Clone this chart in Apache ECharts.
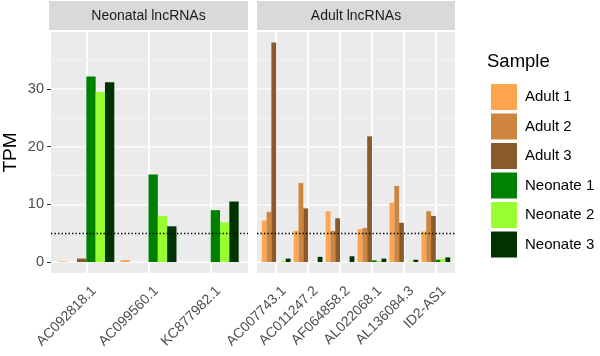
<!DOCTYPE html>
<html>
<head>
<meta charset="utf-8">
<script src="https://cdn.jsdelivr.net/npm/echarts@6/dist/echarts.min.js"></script>
<style>
  html, body { margin: 0; padding: 0; background: #fff; }
  #chart { width: 600px; height: 356px; }
</style>
</head>
<body>
<div id="chart"></div>
<script>
// data (TPM)
const neonatalGenes = ['AC092818.1', 'AC099560.1', 'KC877982.1']
const adultGenes = ['AC007743.1', 'AC011247.2', 'AF064858.2', 'AL022068.1', 'AL136084.3', 'ID2-AS1']
const samples = ['Adult 1', 'Adult 2', 'Adult 3', 'Neonate 1', 'Neonate 2', 'Neonate 3']
const sampleColors = ['#FFA54F', '#CD853F', '#8B5A2B', '#008000', '#99FF33', '#003300']

// one row per sample, values in gene order
const neonatalValues = [
  [0.1, 0.35, 0],
  [0, 0, 0],
  [0.6, 0, 0],
  [32.2, 15.2, 9.0],
  [29.5, 8.0, 6.9],
  [31.2, 6.2, 10.5]
]
const adultValues = [
  [7.2, 5.4, 8.8, 5.7, 10.3, 5.3],
  [8.7, 13.7, 5.4, 5.9, 13.2, 8.8],
  [38.1, 9.3, 7.6, 21.8, 6.8, 8.0],
  [0, 0, 0, 0.3, 0, 0.4],
  [0.2, 0, 0, 0.2, 0.15, 0.6],
  [0.6, 0.9, 1.0, 0.6, 0.4, 0.8]
]

const yTicks = [0, 10, 20, 30]
const yMinorTicks = [5, 15, 25, 35]
const yMin = -1.9
const yMax = 39.9
const yStep = 10
const threshold = 5
const facetTitles = ['Neonatal lncRNAs', 'Adult lncRNAs']

const font = 'Liberation Sans, Arial, sans-serif'
const panelTop = 32
const panelHeight = 241
const panels = [
  { left: 49, width: 199, n: neonatalGenes.length },
  { left: 257, width: 198, n: adultGenes.length }
]

const chart = echarts.init(document.getElementById('chart'))

// ggplot pads discrete axes by 0.6 units, echarts by 0.5
const barGrids = panels.map(p => {
  const unit = p.width / (p.n + 0.2)
  return { left: p.left + unit * 0.1, top: panelTop, width: p.width - unit * 0.2, height: panelHeight }
})

const grids = [
  ...panels.map(p => ({
    left: p.left, top: panelTop, width: p.width, height: panelHeight,
    show: true, backgroundColor: '#EBEBEB', borderWidth: 0, z: 0
  })),
  ...barGrids
]

const xAxes = [
  { gridIndex: 0, type: 'value', show: false, min: 0, max: 1 },
  { gridIndex: 1, type: 'value', show: false, min: 0, max: 1 },
  ...[neonatalGenes, adultGenes].map((genes, i) => ({
    gridIndex: 2 + i,
    type: 'category',
    data: genes,
    boundaryGap: true,
    z: 1,
    axisLine: { show: false },
    axisTick: { show: false, alignWithLabel: true },
    axisLabel: {
      rotate: 45, interval: 0, margin: 8, fontSize: 14, color: '#4D4D4D', fontFamily: font,
      verticalAlign: 'top', lineHeight: 22
    },
    splitLine: { show: true, alignWithLabel: true, lineStyle: { color: '#FFFFFF', width: 2 } }
  }))
]

const yAxes = [0, 1].map(i => ({
  gridIndex: i, type: 'value', min: yMin, max: yMax, interval: yStep, startValue: yTicks[0],
  position: 'left', z: 1,
  name: i === 0 ? 'TPM' : '',
  nameLocation: 'middle',
  nameGap: 31,
  nameTextStyle: { fontSize: 19, color: '#000', fontFamily: font },
  axisLine: { show: false },
  axisTick: { show: i === 0, length: 4, lineStyle: { color: '#333' }, customValues: yTicks },
  axisLabel: { show: i === 0, margin: 7, fontSize: 14.5, color: '#4D4D4D', fontFamily: font, customValues: yTicks },
  splitLine: { show: true, lineStyle: { color: '#FDFDFD', width: 2 } }
}))
// value axes for the bar grids
for (let i = 0; i < 2; i++) {
  yAxes.push({ gridIndex: 2 + i, type: 'value', min: yMin, max: yMax, show: false, splitLine: { show: false } })
}

const series = []
// panel grid lines drawn as mark lines under the bars
for (let i = 0; i < 2; i++) {
  series.push({
    type: 'line',
    xAxisIndex: i,
    yAxisIndex: i,
    data: [],
    silent: true,
    z: 1.5,
    markLine: {
      silent: true,
      symbol: ['none', 'none'],
      label: { show: false },
      z: 1.5,
      animation: false,
      lineStyle: { color: '#F8F8F8', type: 'solid', width: 2 },
      data: [
        ...yTicks.map(v => ({ yAxis: v })),
        ...yMinorTicks.map(v => ({ yAxis: v, lineStyle: { color: '#F4F4F4', type: 'solid', width: 1 } }))
      ]
    }
  })
}
;[neonatalValues, adultValues].forEach((vals, p) => {
  samples.forEach((s, k) => {
    series.push({
      name: s,
      type: 'bar',
      xAxisIndex: 2 + p,
      yAxisIndex: 2 + p,
      z: 3,
      data: vals[k],
      barGap: '0%',
      barCategoryGap: '10%',
      itemStyle: { color: sampleColors[k] },
      emphasis: { disabled: true }
    })
  })
})
// dotted threshold line across each panel
for (let i = 0; i < 2; i++) {
  series.push({
    type: 'line',
    xAxisIndex: i,
    yAxisIndex: i,
    data: [],
    silent: true,
    markLine: {
      silent: true,
      symbol: ['none', 'none'],
      label: { show: false },
      z: 10,
      lineStyle: { color: '#000', type: [1.4, 2.1], width: 1.4 },
      data: [{ yAxis: threshold }]
    }
  })
}

const strips = panels.map((p, i) => ({
  type: 'group',
  children: [
    { type: 'rect', shape: { x: p.left, y: 1, width: p.width, height: 29 }, style: { fill: '#D9D9D9' } },
    {
      type: 'text', x: p.left + p.width / 2, y: 16,
      style: { text: facetTitles[i], fill: '#1A1A1A', font: '14px ' + font, align: 'center', verticalAlign: 'middle' }
    }
  ]
}))

const option = {
  animation: false,
  title: {
    text: 'Sample', left: 482, top: 47,
    textStyle: { fontSize: 18.5, fontWeight: 'normal', color: '#000', fontFamily: font }
  },
  legend: {
    orient: 'vertical',
    left: 486,
    top: 79,
    itemWidth: 26,
    itemHeight: 26,
    itemGap: 3.5,
    icon: 'rect',
    selectedMode: false,
    data: samples,
    textStyle: { fontSize: 15, color: '#000', fontFamily: font, padding: [0, 0, 0, 3] }
  },
  grid: grids,
  xAxis: xAxes,
  yAxis: yAxes,
  series: series,
  graphic: strips
}

chart.setOption(option)
</script>
</body>
</html>
